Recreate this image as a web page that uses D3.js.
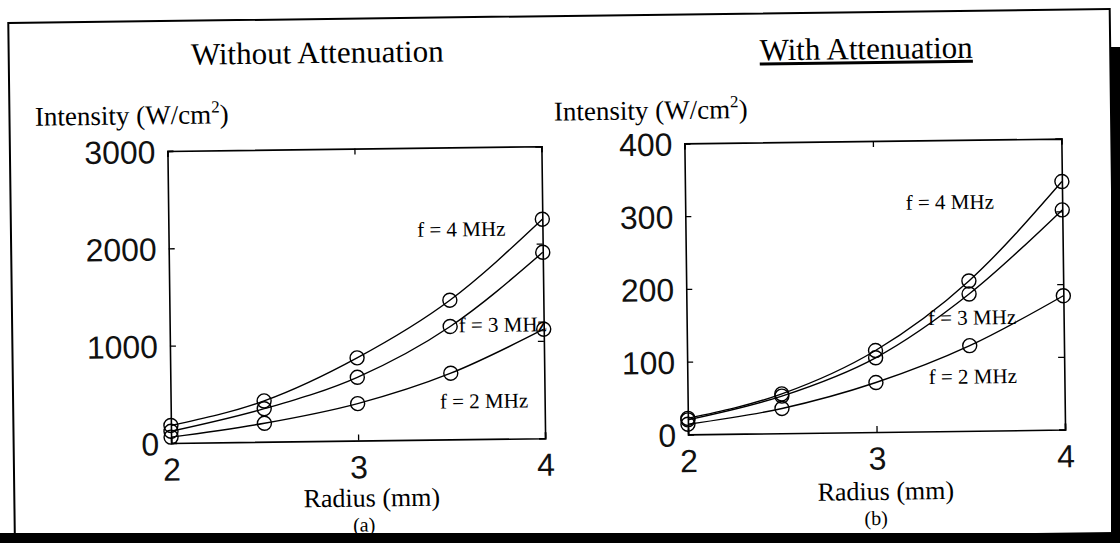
<!DOCTYPE html>
<html><head><meta charset="utf-8">
<script src="https://cdn.jsdelivr.net/npm/d3@7"></script>
<style>body{margin:0;background:#fff;overflow:hidden}</style>
</head><body>
<svg id="c" width="1120" height="543"></svg>
<script>
// ---- data ----
const radius = [2, 2.5, 3, 3.5, 4];
const freqLabels = ["f = 4 MHz", "f = 3 MHz", "f = 2 MHz"];
const noAtt4MHz = [180, 420, 850, 1430, 2250];
const noAtt3MHz = [120, 340, 650, 1160, 1910];
const noAtt2MHz = [60, 190, 380, 680, 1120];
const att4MHz = [22, 54, 112, 206, 341];
const att3MHz = [20, 51, 102, 188, 302];
const att2MHz = [14, 34, 68, 117, 184];
const xTicks = [2, 3, 4];
const yTicksA = [0, 1000, 2000, 3000];
const yTicksB = [0, 100, 200, 300, 400];
const titles = ["Without Attenuation", "With Attenuation"];
const panelTags = ["(a)", "(b)"];
const xTitle = "Radius (mm)";
// annotation anchors in data units [radius, intensity]
const annotA = [[3.33, 2085], [3.545, 1100], [3.44, 318]];
const annotB = [[3.17, 305], [3.28, 146], [3.28, 65]];

const svg = d3.select("#c");
svg.append("rect").attr("width", 1120).attr("height", 543).attr("fill", "#fff");
const g = svg.append("g").attr("transform", "rotate(-0.73,560,272)");

// outer frame
g.append("rect").attr("x", 11.5).attr("y", 16).attr("width", 1101.5).attr("height", 524)
  .attr("fill", "none").attr("stroke", "#000").attr("stroke-width", 2);

const serif = "'Liberation Serif','Times New Roman',serif";
const sans = "'Liberation Sans',Arial,Helvetica,sans-serif";

const panels = [
  {box: {x0: 169, x1: 543, y0: 146, y1: 438}, yMax: 3000, yTicks: yTicksA,
   series: [noAtt4MHz, noAtt3MHz, noAtt2MHz], annot: annotA,
   title: titles[0], titleX: 320, titleY: 60, underline: false,
   ylabX: 37, ylabY: 119, tag: panelTags[0], xtX: 369, tagX: 361},
  {box: {x0: 686, x1: 1063, y0: 145, y1: 436}, yMax: 400, yTicks: yTicksB,
   series: [att4MHz, att3MHz, att2MHz], annot: annotB,
   title: titles[1], titleX: 869, titleY: 63, underline: true,
   ylabX: 556, ylabY: 120.5, tag: panelTags[1], xtX: 883, tagX: 873}
];

panels.forEach(p => {
  const b = p.box;
  const x = d3.scaleLinear().domain([2, 4]).range([b.x0, b.x1]);
  const y = d3.scaleLinear().domain([0, p.yMax]).range([b.y1, b.y0]);
  const pg = g.append("g");

  // title
  const t = pg.append("text").attr("x", p.titleX).attr("y", p.titleY)
    .attr("text-anchor", "middle").attr("font-family", serif).attr("font-size", 31)
    .text(p.title);
  if (p.underline) t.attr("text-decoration", "underline");

  // y label with superscript
  const yl = pg.append("text").attr("x", p.ylabX).attr("y", p.ylabY)
    .attr("font-family", serif).attr("font-size", 27);
  yl.append("tspan").text("Intensity (W/cm");
  yl.append("tspan").attr("dy", -11).attr("font-size", 17).text("2");
  yl.append("tspan").attr("dy", 11).text(")");

  // axes (ticks inward)
  const tl = 6;
  const axB = pg.append("g").attr("transform", `translate(0,${b.y1})`)
    .call(d3.axisBottom(x).tickValues(xTicks).tickSize(-tl).tickPadding(15).tickFormat(d3.format("d")));
  const axT = pg.append("g").attr("transform", `translate(0,${b.y0})`)
    .call(d3.axisTop(x).tickValues(xTicks).tickSize(-tl).tickFormat(""));
  const axL = pg.append("g").attr("transform", `translate(${b.x0},0)`)
    .call(d3.axisLeft(y).tickValues(p.yTicks).tickSize(-tl).tickPadding(12).tickFormat(d3.format("d")));
  const axR = pg.append("g").attr("transform", `translate(${b.x1},0)`)
    .call(d3.axisRight(y).tickValues(p.yTicks).tickSize(-tl).tickFormat(""));
  [axB, axT, axL, axR].forEach(a => {
    a.select(".domain").attr("stroke", "#000").attr("stroke-width", 1.6);
    a.selectAll(".tick line").attr("stroke", "#000").attr("stroke-width", 1.3);
    a.selectAll("text").attr("font-family", sans).attr("font-size", 32).attr("fill", "#111");
  });
  axB.selectAll("text").attr("dy", "0.71em");
  axL.selectAll("text").attr("dy", "0.36em");

  // x title and tag
  pg.append("text").attr("x", p.xtX).attr("y", 504)
    .attr("text-anchor", "middle").attr("font-family", serif).attr("font-size", 26).text(xTitle);
  pg.append("text").attr("x", p.tagX).attr("y", 529)
    .attr("text-anchor", "middle").attr("font-family", serif).attr("font-size", 20).text(p.tag);

  // curves and markers
  const line = d3.line().x((d, i) => x(radius[i])).y(d => y(d)).curve(d3.curveMonotoneX);
  p.series.forEach((s, k) => {
    pg.append("path").datum(s).attr("d", line).attr("fill", "none")
      .attr("stroke", "#000").attr("stroke-width", 1.4);
    pg.append("g").selectAll("circle").data(s).join("circle")
      .attr("cx", (d, i) => x(radius[i])).attr("cy", d => y(d)).attr("r", 7)
      .attr("fill", "none").attr("stroke", "#000").attr("stroke-width", 1.4);
  });

  // frequency annotations
  p.annot.forEach((a, k) => {
    pg.append("text").attr("x", x(a[0])).attr("y", y(a[1]))
      .attr("font-family", serif).attr("font-size", 21).text(freqLabels[k]);
  });
});

// scan page-edge shadows
svg.append("rect").attr("x", 1111).attr("y", 47).attr("width", 9).attr("height", 496).attr("fill", "#000");
svg.append("rect").attr("x", 0).attr("y", 533).attr("width", 1120).attr("height", 10).attr("fill", "#000");
</script>
</body></html>
